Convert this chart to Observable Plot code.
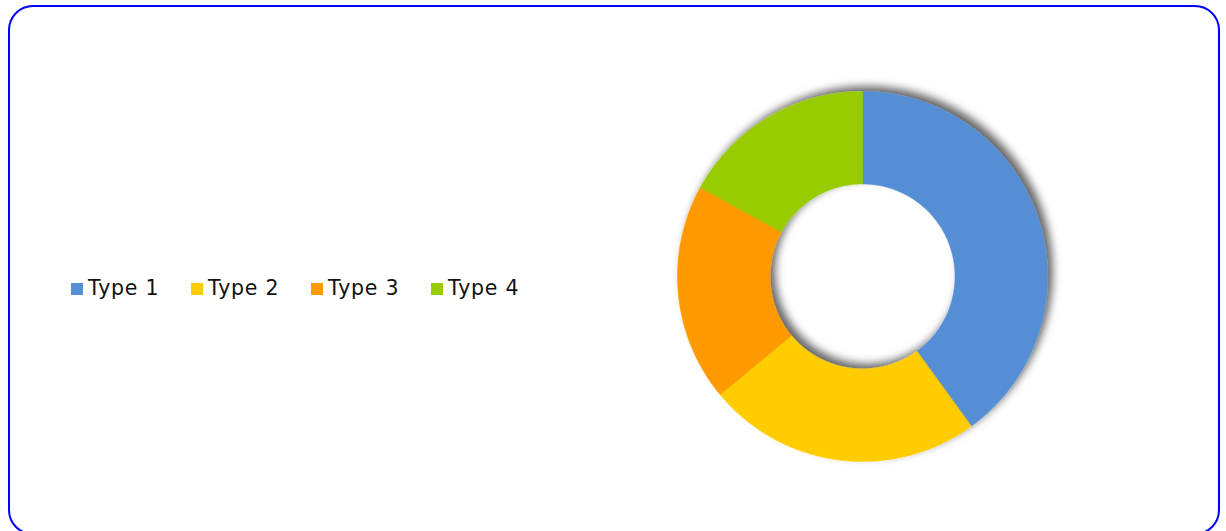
<!DOCTYPE html>
<html>
<head>
<meta charset="utf-8">
<script src="https://cdn.jsdelivr.net/npm/d3@7"></script>
<script src="https://cdn.jsdelivr.net/npm/@observablehq/plot@0.6"></script>
<style>
  html, body { margin: 0; padding: 0; background: #fff; overflow: hidden; }
  #wrap { position: relative; width: 1226px; height: 531px; }
  #frame { position: absolute; left: 7.5px; top: 5px; width: 1212.5px; height: 530px;
           border: 2.5px solid #0000ff; border-radius: 25px; box-sizing: border-box; }
  #chart { position: absolute; left: 0; top: 0; }
  #legend { position: absolute; left: 71px; top: 276px; font-family: "DejaVu Sans", Verdana, sans-serif;
            font-size: 20.5px; letter-spacing: 0.8px; color: #111; white-space: nowrap; }
  .item { display: inline-block; width: 120px; }
  .sw { display: inline-block; width: 12px; height: 12px; margin-right: 5px; vertical-align: 0px; }
</style>
</head>
<body>
<div id="wrap">
  <div id="frame"></div>
  <div id="chart"></div>
  <div id="legend"></div>
</div>
<script>
const categories = ["Type 1", "Type 2", "Type 3", "Type 4"];
const values = [40, 24, 19, 17];
const colors = ["#558ed5", "#ffcc00", "#ff9900", "#99cc00"];

const W = 1226, H = 531;
const cx = 862, cy = 276, R = 185, innerRatio = 0.5;

// Build slice outlines from the data with d3.pie angles
const pie = d3.pie().sort(null).value(d => d.value);
const arcs = pie(categories.map((c, i) => ({type: c, value: values[i]})));
const pts = [];
for (const a of arcs) {
  const n = Math.max(2, Math.ceil((a.endAngle - a.startAngle) / (Math.PI / 360)));
  for (let k = 0; k <= n; k++) {
    const t = a.startAngle + (a.endAngle - a.startAngle) * k / n;
    pts.push({type: a.data.type, x: Math.sin(t), y: Math.cos(t)});
  }
  for (let k = n; k >= 0; k--) {
    const t = a.startAngle + (a.endAngle - a.startAngle) * k / n;
    pts.push({type: a.data.type, x: innerRatio * Math.sin(t), y: innerRatio * Math.cos(t)});
  }
}

const plot = Plot.plot({
  width: W, height: H,
  margin: 0,
  x: {domain: [-cx / R, (W - cx) / R], axis: null},
  y: {domain: [-(H - cy) / R, cy / R], axis: null},
  color: {domain: categories, range: colors},
  marks: [
    Plot.line(pts, {x: "x", y: "y", z: "type", fill: "type", stroke: "type", strokeWidth: 0.5, curve: "linear-closed"})
  ]
});

const svgNS = "http://www.w3.org/2000/svg";
const defs = document.createElementNS(svgNS, "defs");
defs.innerHTML = '<filter id="shadow" x="-20%" y="-20%" width="140%" height="140%">' +
  '<feDropShadow dx="5" dy="-5" stdDeviation="4.5" flood-color="#000" flood-opacity="0.6"/></filter>';
plot.insertBefore(defs, plot.firstChild);
const g = plot.querySelector('g[aria-label="line"]');
if (g) g.setAttribute("filter", "url(#shadow)");
document.getElementById("chart").appendChild(plot);

const legend = document.getElementById("legend");
categories.forEach((c, i) => {
  const item = document.createElement("span");
  item.className = "item";
  item.innerHTML = `<span class="sw" style="background:${colors[i]}"></span>${c}`;
  legend.appendChild(item);
});
</script>
</body>
</html>
